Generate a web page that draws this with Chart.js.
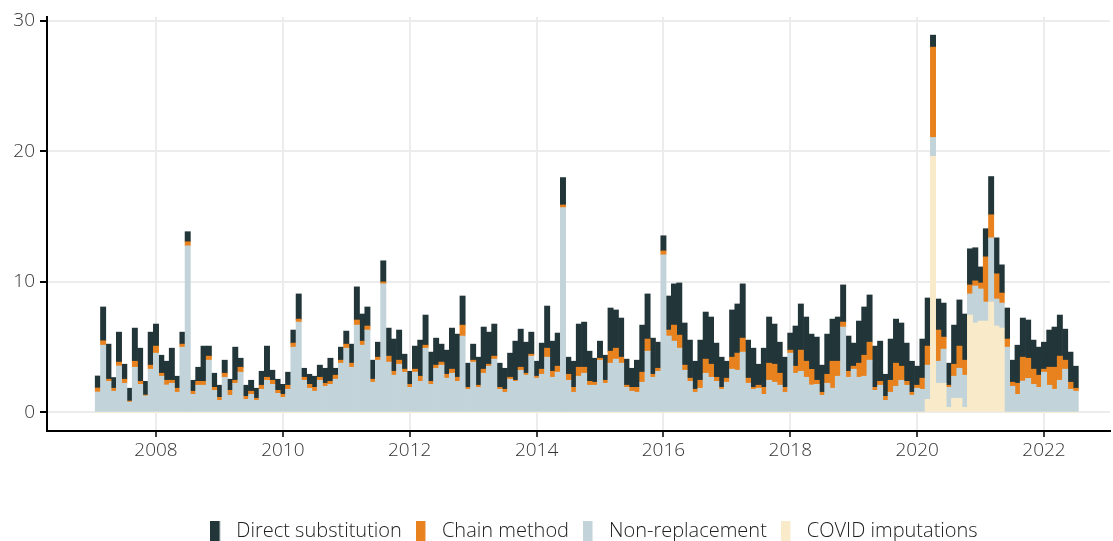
<!DOCTYPE html>
<html>
<head>
<meta charset="utf-8">
<script src="https://cdn.jsdelivr.net/npm/chart.js@4/dist/chart.umd.min.js"></script>
<style>
html,body{margin:0;padding:0;background:#fff;}
#wrap{width:1113px;height:541px;position:relative;overflow:hidden;}
</style>
</head>
<body>
<div id="wrap"><canvas id="c" width="1113" height="541"></canvas></div>
<script>
// Monthly categories: Feb 2007 .. Jul 2022 (186 months)
const firstYear = 2007, firstMonth = 2, monthCount = 186;
const monthLabels = [];
const monthPos = [];
for (let i = 0; i < monthCount; i++) {
  const k = (firstMonth - 1) + i;
  const y = firstYear + Math.floor(k / 12);
  const m = (k % 12) + 1;
  monthLabels.push(y + '-' + String(m).padStart(2, '0'));
  monthPos.push(y + (m - 1) / 12);
}

const yearTicks = [2008, 2010, 2012, 2014, 2016, 2018, 2020, 2022];
const valueTicks = [0, 10, 20, 30];

const nonReplacement = [
  1.56, 5.15, 2.38, 1.62, 3.56, 2.23, 0.79, 3.46, 2.15, 1.26,
  3.31, 4.54, 2.77, 2.10, 2.23, 1.54, 5.00, 12.77, 1.38, 2.08,
  2.08, 4.00, 1.69, 0.92, 2.69, 1.31, 2.23, 3.08, 1.00, 1.38,
  0.92, 1.77, 2.46, 2.15, 1.46, 1.15, 1.77, 5.00, 6.92, 2.46,
  1.85, 1.62, 2.46, 2.00, 2.15, 2.54, 3.77, 4.92, 3.46, 6.69,
  5.15, 6.31, 2.31, 4.00, 9.85, 3.85, 2.85, 3.69, 3.08, 1.92,
  3.08, 2.38, 4.92, 2.15, 3.38, 3.62, 2.62, 3.00, 2.38, 5.85,
  1.77, 3.85, 1.92, 3.00, 3.54, 4.08, 1.77, 1.54, 2.54, 2.38,
  3.23, 2.85, 4.31, 2.62, 2.92, 4.23, 2.69, 3.08, 15.70, 2.46,
  1.54, 2.77, 3.00, 2.08, 2.08, 4.00, 2.23, 3.77, 4.08, 3.77,
  1.92, 1.62, 1.54, 2.31, 4.69, 2.69, 3.15, 12.08, 5.85, 5.46,
  4.92, 3.23, 2.38, 1.54, 1.85, 3.00, 2.69, 2.38, 1.77, 2.31,
  3.31, 3.23, 4.62, 2.23, 1.77, 1.85, 1.38, 2.46, 2.31, 2.08,
  1.54, 4.54, 3.00, 3.15, 2.69, 2.10, 2.15, 1.31, 2.23, 1.85,
  2.77, 6.54, 2.69, 3.31, 2.69, 2.77, 4.00, 1.69, 2.08, 0.92,
  1.54, 2.00, 2.46, 2.08, 1.31, 1.85, 1.77, 2.62, 1.46, 1.69,
  2.62, 1.54, 1.69, 2.30, 2.47, 1.62, 2.84, 2.46, 1.46, 4.92,
  2.07, 1.92, 5.00, 2.00, 1.38, 2.40, 2.60, 2.15, 1.92, 3.08,
  2.08, 1.77, 2.46, 3.31, 1.77, 1.62
];

const chainMethod = [
  0.31, 0.34, 0.16, 0.23, 0.29, 0.31, 0.08, 0.46, 0.23, 0.07,
  0.31, 0.54, 0.23, 0.36, 0.23, 0.31, 0.23, 0.31, 0.24, 0.30,
  0.30, 0.31, 0.23, 0.23, 0.31, 0.38, 0.23, 0.38, 0.23, 0.24,
  0.16, 0.31, 0.23, 0.31, 0.23, 0.23, 0.31, 0.31, 0.23, 0.23,
  0.30, 0.30, 0.23, 0.23, 0.23, 0.31, 0.23, 0.31, 0.31, 0.39,
  0.31, 0.31, 0.23, 0.23, 0.15, 0.46, 0.30, 0.31, 0.23, 0.23,
  0.23, 0.39, 0.23, 0.23, 0.24, 0.23, 0.30, 0.31, 0.31, 0.84,
  0.15, 0.15, 0.16, 0.31, 0.15, 0.23, 0.15, 0.23, 0.15, 0.08,
  0.23, 0.15, 0.15, 0.15, 0.39, 0.69, 0.46, 0.46, 0.20, 0.46,
  0.38, 0.69, 0.46, 0.30, 0.23, 0.15, 0.23, 0.92, 0.84, 0.46,
  0.16, 0.30, 0.38, 0.77, 0.93, 0.23, 0.23, 0.30, 0.46, 1.23,
  1.00, 0.39, 0.24, 0.23, 0.61, 1.08, 1.00, 0.31, 0.15, 0.31,
  0.92, 1.31, 1.07, 0.39, 0.15, 0.23, 0.54, 1.31, 1.38, 0.92,
  0.38, 0.23, 0.54, 1.62, 1.23, 1.20, 0.31, 0.23, 0.69, 2.07,
  1.15, 0.38, 0.46, 0.23, 1.08, 1.61, 1.38, 0.23, 0.30, 0.31,
  0.92, 1.77, 1.08, 0.30, 0.23, 0.23, 0.85, 1.46, 6.92, 2.39,
  0.92, 0.16, 0.92, 1.70, 1.15, 0.69, 0.39, 0.46, 3.46, 1.77,
  1.93, 0.77, 0.62, 0.31, 0.85, 1.83, 1.55, 1.16, 0.93, 0.23,
  1.38, 1.69, 1.85, 0.69, 0.54, 0.23
];

const directSubstitution = [
  0.92, 2.59, 2.69, 0.82, 2.30, 1.15, 0.98, 2.54, 2.54, 1.05,
  2.53, 1.69, 1.38, 1.46, 2.46, 0.92, 0.92, 0.77, 0.84, 1.08,
  2.70, 0.77, 1.08, 0.93, 1.00, 0.85, 2.54, 0.69, 0.85, 0.84,
  0.77, 1.07, 2.39, 0.77, 0.85, 0.77, 1.00, 1.00, 1.93, 0.69,
  0.77, 0.85, 0.93, 1.15, 1.77, 0.53, 1.00, 1.00, 1.46, 2.54,
  2.08, 1.46, 1.46, 1.15, 1.62, 2.15, 2.47, 2.31, 1.15, 1.00,
  1.77, 2.77, 2.31, 2.24, 2.07, 1.38, 1.85, 3.15, 3.31, 2.23,
  1.85, 1.23, 2.15, 3.23, 2.46, 2.46, 1.85, 1.61, 1.85, 3.00,
  2.92, 2.38, 1.69, 1.15, 2.00, 3.23, 2.31, 2.54, 2.10, 1.31,
  2.00, 3.31, 3.46, 2.31, 1.84, 1.31, 1.92, 3.31, 2.93, 3.00,
  2.00, 1.46, 2.08, 3.61, 3.46, 2.77, 2.00, 1.16, 2.61, 3.16,
  4.00, 3.23, 2.92, 2.15, 3.08, 3.61, 3.62, 2.62, 2.31, 1.30,
  3.62, 3.77, 4.16, 2.92, 3.00, 1.61, 3.00, 3.54, 3.08, 2.38,
  2.31, 1.31, 3.08, 3.54, 3.39, 2.70, 3.31, 2.08, 3.08, 3.23,
  3.39, 2.85, 2.70, 1.77, 3.23, 3.70, 3.62, 3.16, 3.08, 1.69,
  3.16, 3.38, 3.31, 2.93, 2.38, 1.46, 3.00, 3.69, 0.92, 2.38,
  2.61, 1.69, 3.00, 3.54, 3.54, 2.77, 2.54, 1.23, 2.16, 2.93,
  2.76, 2.16, 2.38, 1.69, 2.92, 3.00, 2.93, 2.23, 2.15, 2.07,
  2.85, 3.08, 3.15, 2.38, 2.31, 1.69
];

const covidImputations = [
  0, 0, 0, 0, 0, 0, 0, 0, 0, 0,
  0, 0, 0, 0, 0, 0, 0, 0, 0, 0,
  0, 0, 0, 0, 0, 0, 0, 0, 0, 0,
  0, 0, 0, 0, 0, 0, 0, 0, 0, 0,
  0, 0, 0, 0, 0, 0, 0, 0, 0, 0,
  0, 0, 0, 0, 0, 0, 0, 0, 0, 0,
  0, 0, 0, 0, 0, 0, 0, 0, 0, 0,
  0, 0, 0, 0, 0, 0, 0, 0, 0, 0,
  0, 0, 0, 0, 0, 0, 0, 0, 0, 0,
  0, 0, 0, 0, 0, 0, 0, 0, 0, 0,
  0, 0, 0, 0, 0, 0, 0, 0, 0, 0,
  0, 0, 0, 0, 0, 0, 0, 0, 0, 0,
  0, 0, 0, 0, 0, 0, 0, 0, 0, 0,
  0, 0, 0, 0, 0, 0, 0, 0, 0, 0,
  0, 0, 0, 0, 0, 0, 0, 0, 0, 0,
  0, 0, 0, 0, 0, 0, 0, 1.00, 19.62, 2.23,
  2.23, 0.38, 1.08, 1.08, 0.38, 7.46, 6.85, 7.00, 7.00, 8.46,
  6.62, 6.46, 0, 0, 0, 0, 0, 0, 0, 0,
  0, 0, 0, 0, 0, 0
];

const COLORS = {
  direct: '#22363a',
  chain: '#e8821e',
  nonrep: '#c2d4d9',
  covid: '#f9ebc9'
};

function pts(arr) { return arr.map((v, i) => ({ x: monthPos[i], y: v })); }

// legend key: narrow tall rectangle on a wider transparent canvas
function legendKey(color) {
  const c = document.createElement('canvas');
  c.width = 16; c.height = 20;
  const g = c.getContext('2d');
  g.fillStyle = color;
  g.fillRect(0, 0, 9.5, 20);
  return c;
}

const FONT = "'Open Sans', 'Noto Sans', sans-serif";

const legendShift = {
  id: 'legendShift',
  afterLayout(chart) {
    if (chart.legend) { chart.legend.left += 39; chart.legend.right += 39; }
  }
};

const chart = new Chart(document.getElementById('c'), {
  type: 'bar',
  plugins: [legendShift],
  data: {
    labels: monthLabels,
    datasets: [
      { label: 'COVID imputations', data: pts(covidImputations), backgroundColor: COLORS.covid },
      { label: 'Non-replacement', data: pts(nonReplacement), backgroundColor: COLORS.nonrep },
      { label: 'Chain method', data: pts(chainMethod), backgroundColor: COLORS.chain },
      { label: 'Direct substitution', data: pts(directSubstitution), backgroundColor: COLORS.direct }
    ]
  },
  options: {
    responsive: false,
    animation: false,
    devicePixelRatio: 1,
    layout: { padding: { left: 0, right: 3, top: 17, bottom: -10 } },
    datasets: { bar: { barPercentage: 1, categoryPercentage: 1, borderWidth: 0 } },
    scales: {
      x: {
        type: 'linear',
        stacked: true,
        offset: false,
        min: 2006.2816,
        max: 2023.0405,
        afterBuildTicks: s => { s.ticks = yearTicks.map(v => ({ value: v })); },
        afterFit: s => { s.height = 76; },
        grid: { offset: false, color: '#ececec', lineWidth: 2, drawTicks: true, tickLength: 6, tickColor: '#000', tickWidth: 1.5 },
        border: { color: '#000', width: 2 },
        ticks: {
          callback: v => String(v),
          color: '#333',
          padding: 2,
          maxRotation: 0,
          autoSkip: false,
          font: { family: FONT, size: 19, weight: '300' }
        }
      },
      y: {
        stacked: true,
        min: -1.43,
        max: 30.31,
        afterBuildTicks: s => { s.ticks = valueTicks.map(v => ({ value: v })); },
        afterFit: s => { s.width = 47; },
        grid: { color: '#ececec', lineWidth: 2, drawTicks: true, tickLength: 7, tickColor: '#000', tickWidth: 2 },
        border: { color: '#000', width: 2 },
        ticks: {
          color: '#333',
          padding: 5,
          font: { family: FONT, size: 19, weight: '300' }
        }
      }
    },
    plugins: {
      legend: {
        position: 'bottom',
        reverse: true,
        labels: {
          usePointStyle: true,
          pointStyleWidth: 16,
          boxHeight: 20,
          padding: 14,
          color: '#222',
          font: { family: FONT, size: 20, weight: '300' },
          generateLabels: ch => {
            const items = Chart.defaults.plugins.legend.labels.generateLabels(ch);
            items.forEach(it => {
              it.pointStyle = legendKey(ch.data.datasets[it.datasetIndex].backgroundColor);
            });
            return items;
          }
        }
      },
      tooltip: { enabled: false }
    }
  }
});
</script>
</body>
</html>
